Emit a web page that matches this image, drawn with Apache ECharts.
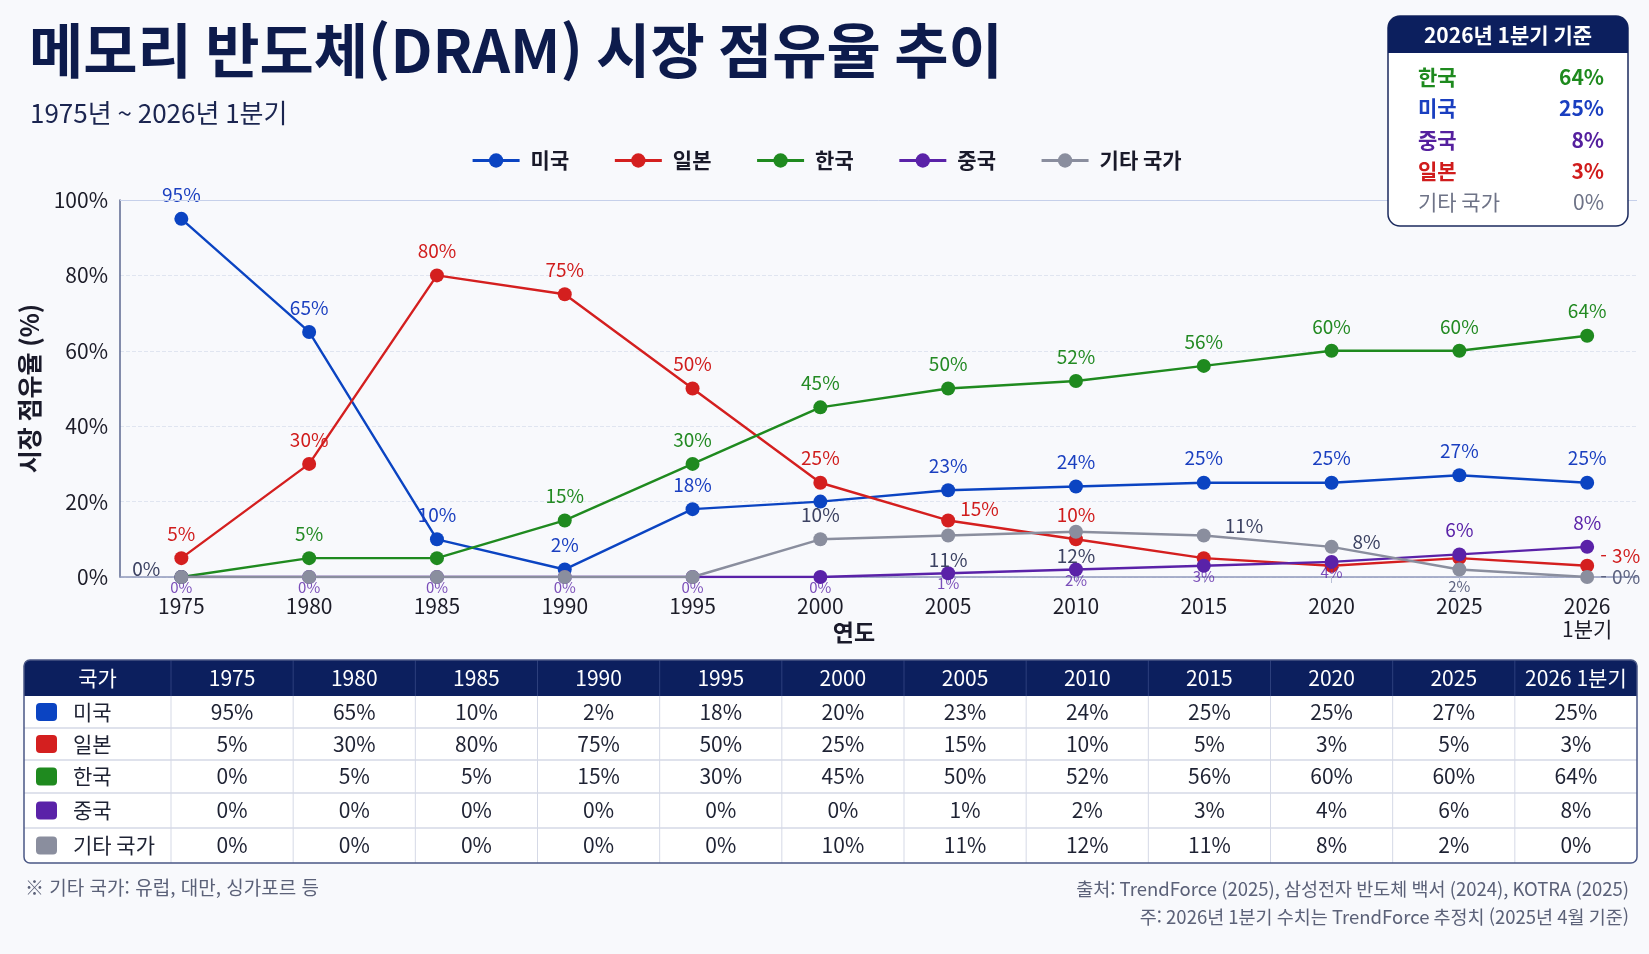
<!DOCTYPE html>
<html lang="ko">
<head>
  <meta charset="UTF-8">
  <title>메모리 반도체(DRAM) 시장 점유율 추이</title>
  <style>
    html, body { margin: 0; padding: 0; background: #f8f9fc; }
    #chart { width: 1649px; height: 954px; }
  </style>
</head>
<body>
  <div id="chart"></div>
  <script src="https://cdn.jsdelivr.net/npm/echarts@6/dist/echarts.min.js"></script>
  <script>
    // Data
    const years = ['1975', '1980', '1985', '1990', '1995', '2000', '2005', '2010', '2015', '2020', '2025', '2026\n1분기'];
    const countries = ['미국', '일본', '한국', '중국', '기타 국가'];
    const usShare     = [95, 65, 10, 2, 18, 20, 23, 24, 25, 25, 27, 25];
    const japanShare  = [5, 30, 80, 75, 50, 25, 15, 10, 5, 3, 5, 3];
    const koreaShare  = [0, 5, 5, 15, 30, 45, 50, 52, 56, 60, 60, 64];
    const chinaShare  = [0, 0, 0, 0, 0, 0, 1, 2, 3, 4, 6, 8];
    const otherShare  = [0, 0, 0, 0, 0, 10, 11, 12, 11, 8, 2, 0];
    const yTicks = [0, 20, 40, 60, 80, 100];

    const FONT = '"Noto Sans CJK KR", "Noto Sans", sans-serif';
    const NAVY = '#0c1f5e';
    const shares = [usShare, japanShare, koreaShare, chinaShare, otherShare];
    const lineColors = ['#0b44c2', '#d41f1f', '#1f8a1f', '#5a22a8', '#8a8e9e'];
    const labelColors = ['#1a3fc0', '#d01c1c', '#238a23', '#5a22a8', '#3c4262'];
    const boxColors = ['#1a3fc0', '#d01c1c', '#1e8a1e', '#55209e', '#6e7387'];

    // per-point label tweaks (index -> label options)
    const small = { position: 'bottom', distance: 0, offset: [0, -4], fontSize: 15, color: 'rgba(90,34,168,0.8)' };
    const dash = { position: 'right', distance: 6, formatter: p => '- ' + p.value[1] + '%' };
    const hide = { show: false };
    const labelTweaks = [
      { 5: hide },
      { 6: { position: 'right', distance: 5, offset: [0, -12] }, 8: hide, 9: hide, 10: hide,
        11: Object.assign({ offset: [0, -10] }, dash) },
      { 0: { position: 'left', distance: 14, offset: [0, -8], color: '#3c4262' }, 2: hide },
      { 0: small, 1: small, 2: small, 3: small, 4: small, 5: small, 6: small, 7: small, 8: small, 9: small },
      { 0: hide, 1: hide, 2: hide, 3: hide, 4: hide,
        6: { position: 'bottom' }, 7: { position: 'bottom' },
        8: { position: 'right', distance: 14, offset: [0, -10] },
        9: { position: 'right', distance: 14, offset: [0, -5] },
        10: { position: 'bottom', distance: 2, fontSize: 15, color: '#5d6380' },
        11: Object.assign({ color: '#5d6380' }, dash) }
    ];

    const series = countries.map((name, s) => ({
      name: name,
      type: 'line',
      symbol: 'circle',
      symbolSize: 14,
      z: 2 + s,
      itemStyle: { color: lineColors[s] },
      lineStyle: { color: lineColors[s], width: 2.4 },
      label: {
        show: true,
        position: 'top',
        distance: 8,
        fontFamily: FONT,
        fontSize: 19,
        color: labelColors[s],
        formatter: p => p.value[1] + '%'
      },
      data: shares[s].map((v, i) => {
        const d = { value: [i, v] };
        if (labelTweaks[s][i]) d.label = labelTweaks[s][i];
        return d;
      }),
      markLine: s === 0 ? {
        silent: true, symbol: 'none', label: { show: false },
        lineStyle: { color: '#c6d0ea', type: 'solid', width: 1 },
        data: [{ yAxis: 100 }]
      } : undefined
    }));

    // Table built from the data arrays
    const graphic = [];
    const tX = 24, tW = 1613, tTop = 660, headH = 36;
    const rowH = [32, 32, 33, 35, 35];
    const firstCol = 147;
    const colW = (tW - firstCol) / years.length;
    const tBottom = tTop + headH + rowH.reduce((a, b) => a + b, 0);

    graphic.push({ type: 'rect', z: 10, shape: { x: tX, y: tTop, width: tW, height: tBottom - tTop, r: 6 },
      style: { fill: '#ffffff' } });
    graphic.push({ type: 'rect', z: 11, shape: { x: tX, y: tTop, width: tW, height: headH, r: [6, 6, 0, 0] },
      style: { fill: NAVY } });
    graphic.push({ type: 'text', z: 12, style: { text: '국가', x: tX + firstCol / 2, y: tTop + headH / 2,
      align: 'center', verticalAlign: 'middle', fill: '#ffffff', fontSize: 21, fontFamily: FONT } });
    years.forEach((y, i) => {
      const cx = tX + firstCol + colW * (i + 0.5);
      graphic.push({ type: 'text', z: 12, style: { text: y.replace('\n', ' '), x: cx, y: tTop + headH / 2,
        align: 'center', verticalAlign: 'middle', fill: '#ffffff', fontSize: 21, fontFamily: FONT } });
    });
    for (let i = 0; i < years.length; i++) {
      const lx = tX + firstCol + colW * i;
      graphic.push({ type: 'line', z: 12, shape: { x1: lx, y1: tTop, x2: lx, y2: tTop + headH },
        style: { stroke: '#2d3f7c', lineWidth: 1 } });
      graphic.push({ type: 'line', z: 11, shape: { x1: lx, y1: tTop + headH, x2: lx, y2: tBottom },
        style: { stroke: '#d5d9e6', lineWidth: 1 } });
    }
    let ry = tTop + headH;
    countries.forEach((c, r) => {
      const cy = ry + rowH[r] / 2;
      if (r > 0) {
        graphic.push({ type: 'line', z: 11, shape: { x1: tX, y1: ry, x2: tX + tW, y2: ry },
          style: { stroke: '#d5d9e6', lineWidth: 1.5 } });
      }
      graphic.push({ type: 'rect', z: 12, shape: { x: 36, y: cy - 9, width: 21, height: 18, r: 4 },
        style: { fill: lineColors[r] } });
      graphic.push({ type: 'text', z: 12, style: { text: c, x: 73, y: cy, align: 'left', verticalAlign: 'middle',
        fill: '#1e2233', fontSize: 21, fontFamily: FONT } });
      shares[r].forEach((v, i) => {
        graphic.push({ type: 'text', z: 12, style: { text: v + '%', x: tX + firstCol + colW * (i + 0.5), y: cy,
          align: 'center', verticalAlign: 'middle', fill: '#1e2233', fontSize: 21, fontFamily: FONT } });
      });
      ry += rowH[r];
    });
    graphic.push({ type: 'rect', z: 13, shape: { x: tX, y: tTop, width: tW, height: tBottom - tTop, r: 6 },
      style: { fill: 'none', stroke: '#4a5785', lineWidth: 1.5 } });

    // Latest-quarter box, sorted by share
    const last = years.length - 1;
    const order = countries.map((c, i) => i).sort((a, b) => shares[b][last] - shares[a][last]);
    const bx = 1388, by = 16, bw = 240, bh = 210;
    graphic.push({ type: 'rect', z: 10, shape: { x: bx, y: by, width: bw, height: bh, r: 12 },
      style: { fill: '#ffffff', stroke: '#1b2a5e', lineWidth: 1.5 } });
    graphic.push({ type: 'rect', z: 11, shape: { x: bx, y: by, width: bw, height: 37, r: [12, 12, 0, 0] },
      style: { fill: NAVY } });
    graphic.push({ type: 'text', z: 12, style: { text: '2026년 1분기 기준', x: bx + bw / 2, y: by + 19,
      align: 'center', verticalAlign: 'middle', fill: '#ffffff', fontSize: 21, fontWeight: 'bold', fontFamily: FONT } });
    order.forEach((ci, k) => {
      const cy = 77 + k * 31.3;
      const w = ci === 4 ? 'normal' : 'bold';
      graphic.push({ type: 'text', z: 12, style: { text: countries[ci], x: 1418, y: cy, align: 'left',
        verticalAlign: 'middle', fill: boxColors[ci], fontSize: 21, fontWeight: w, fontFamily: FONT } });
      graphic.push({ type: 'text', z: 12, style: { text: shares[ci][last] + '%', x: 1604, y: cy, align: 'right',
        verticalAlign: 'middle', fill: boxColors[ci], fontSize: 21, fontWeight: w, fontFamily: FONT } });
    });

    // Titles and notes
    graphic.push({ type: 'text', z: 12, style: { text: '메모리 반도체(DRAM) 시장 점유율 추이', x: 29, y: 51,
      verticalAlign: 'middle', fill: '#0d1b4c', fontSize: 59, fontWeight: 'bold', fontFamily: FONT } });
    graphic.push({ type: 'text', z: 12, style: { text: '1975년 ~ 2026년 1분기', x: 30, y: 113,
      verticalAlign: 'middle', fill: '#1b2550', fontSize: 26, fontFamily: FONT } });
    graphic.push({ type: 'text', z: 12, style: { text: '연도', x: 854, y: 632, align: 'center',
      verticalAlign: 'middle', fill: '#1a1a2a', fontSize: 23, fontWeight: 'bold', fontFamily: FONT } });
    graphic.push({ type: 'text', z: 12, style: { text: '※ 기타 국가: 유럽, 대만, 싱가포르 등', x: 25, y: 888,
      verticalAlign: 'middle', fill: '#5b6178', fontSize: 19, fontFamily: FONT } });
    graphic.push({ type: 'text', z: 12, style: { text: '출처: TrendForce (2025), 삼성전자 반도체 백서 (2024), KOTRA (2025)',
      x: 1629, y: 889, align: 'right', verticalAlign: 'middle', fill: '#5b6178', fontSize: 18.5, fontFamily: FONT } });
    graphic.push({ type: 'text', z: 12, style: { text: '주: 2026년 1분기 수치는 TrendForce 추정치 (2025년 4월 기준)',
      x: 1629, y: 917, align: 'right', verticalAlign: 'middle', fill: '#5b6178', fontSize: 18.5, fontFamily: FONT } });

    const chart = echarts.init(document.getElementById('chart'));
    const option = {
      backgroundColor: '#f8f9fc',
      animation: false,
      textStyle: { fontFamily: FONT },
      legend: {
        top: 145,
        left: 466,
        itemWidth: 47,
        itemHeight: 18,
        itemGap: 44,
        lineStyle: { width: 3.2 },
        textStyle: { fontSize: 21, fontWeight: 'bold', color: '#1a1a2a', padding: [0, 0, 0, 6] },
        data: countries
      },
      grid: { left: 120, right: 12, top: 200, bottom: 377 },
      xAxis: {
        type: 'value',
        min: -0.48,
        max: 11.39,
        splitLine: { show: false },
        axisLine: { show: true, onZero: false, lineStyle: { color: '#8f98bb', width: 1.5 } },
        axisTick: { show: true, customValues: years.map((y, i) => i), length: 6, lineStyle: { color: '#b9c0d6' } },
        axisLabel: {
          customValues: years.map((y, i) => i),
          formatter: v => years[Math.round(v)],
          fontSize: 21,
          color: '#1c1c28',
          margin: 18,
          lineHeight: 23
        }
      },
      yAxis: {
        type: 'value',
        min: 0,
        max: 100,
        interval: 20,
        name: '시장 점유율 (%)',
        nameLocation: 'middle',
        nameGap: 78,
        nameTextStyle: { fontSize: 25, fontWeight: 'bold', color: '#1a1a2a' },
        axisLine: { show: true, onZero: false, lineStyle: { color: '#5c6790', width: 1.5 } },
        axisTick: { show: false },
        splitLine: { show: true, lineStyle: { color: '#e0e5f0', type: 'dashed' } },
        axisLabel: { formatter: v => yTicks.includes(v) ? v + '%' : '', fontSize: 21, color: '#1c1c28', margin: 12 }
      },
      graphic: graphic,
      series: series
    };
    chart.setOption(option);
  </script>
</body>
</html>
